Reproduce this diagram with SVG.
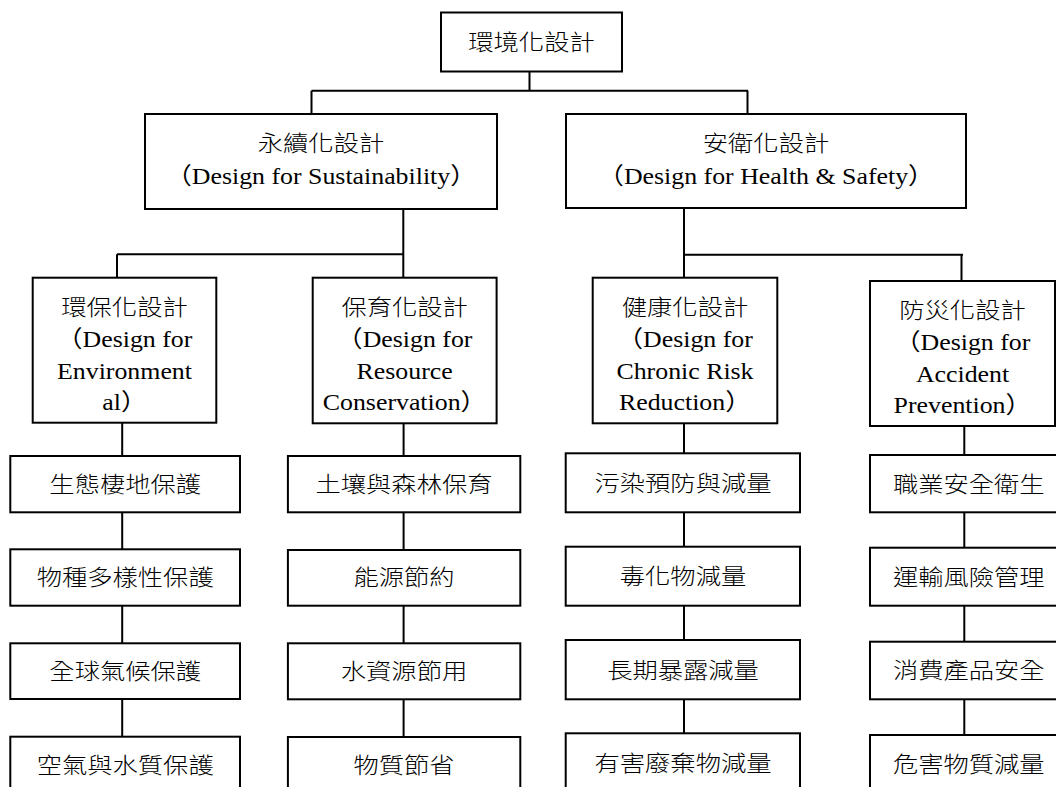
<svg xmlns="http://www.w3.org/2000/svg" width="1056" height="787" viewBox="0 0 1056 787">
<style>
.box{fill:#fff;stroke:#000;stroke-width:2}
.ln{fill:none;stroke:#000;stroke-width:2}
.t{font-family:"Liberation Serif","Noto Sans CJK TC",serif;font-size:22px;font-weight:300;fill:#000;text-anchor:middle}
.l{font-family:"Liberation Serif","Noto Sans CJK TC",serif;font-size:23.5px;fill:#000;text-anchor:middle}
</style>
<rect width="1056" height="787" fill="#fff"/>
<g id="connectors">
<path class="ln" d="M529.5,71.5V90.7M311.5,90.7H748M311.5,90.7V114M747.5,90.7V114"/>
<path class="ln" d="M403.3,209V277.7M117,254.3H403.3M117,254.3V277.7"/>
<path class="ln" d="M684,208V277.7M684,254.7H963M961.5,254.7V281"/>
<path class="ln" d="M122.2,422.7V737M403.6,423.3V737M684,423.3V733.3M964.3,426V735"/>
</g>
<g id="n-root">
<rect class="box" x="441" y="12.5" width="181" height="59"/>
<text class="t" transform="translate(531.5 0) scale(1.15 1)"><tspan x="0" y="50">環境化設計</tspan></text>
</g>
<g id="n-sustain">
<rect class="box" x="145" y="114" width="352" height="95"/>
<text class="t" transform="translate(321 0) scale(1.15 1)"><tspan x="0" y="151.5">永續化設計</tspan></text>
<text class="l" transform="translate(321 0) scale(1.1 1)"><tspan x="0" y="184">（Design for Sustainability）</tspan></text>
</g>
<g id="n-health-safety">
<rect class="box" x="566" y="114" width="400" height="94"/>
<text class="t" transform="translate(766 0) scale(1.15 1)"><tspan x="0" y="151.5">安衛化設計</tspan></text>
<text class="l" transform="translate(766 0) scale(1.1 1)"><tspan x="0" y="184">（Design for Health &amp; Safety）</tspan></text>
</g>
<g id="n-env">
<rect class="box" x="32.7" y="277.7" width="183.6" height="145"/>
<text class="t" transform="translate(124.5 0) scale(1.15 1)"><tspan x="0" y="315.5">環保化設計</tspan></text>
<text class="l" transform="translate(124.5 0) scale(1.1 1)"><tspan x="0" y="347">（Design for</tspan><tspan x="0" y="379">Environment</tspan><tspan x="0" y="410.5">al）</tspan></text>
</g>
<g id="n-resource">
<rect class="box" x="312.7" y="277.7" width="183.9" height="145.6"/>
<text class="t" transform="translate(404.6 0) scale(1.15 1)"><tspan x="0" y="315.5">保育化設計</tspan></text>
<text class="l" transform="translate(404.6 0) scale(1.1 1)"><tspan x="0" y="347">（Design for</tspan><tspan x="0" y="379">Resource</tspan><tspan x="0" y="410.5">Conservation）</tspan></text>
</g>
<g id="n-chronic">
<rect class="box" x="592.7" y="277.7" width="184.6" height="145.6"/>
<text class="t" transform="translate(685 0) scale(1.15 1)"><tspan x="0" y="315.5">健康化設計</tspan></text>
<text class="l" transform="translate(685 0) scale(1.1 1)"><tspan x="0" y="347">（Design for</tspan><tspan x="0" y="379">Chronic Risk</tspan><tspan x="0" y="410.5">Reduction）</tspan></text>
</g>
<g id="n-accident">
<rect class="box" x="870" y="281" width="185" height="145"/>
<text class="t" transform="translate(962.5 0) scale(1.15 1)"><tspan x="0" y="318.5">防災化設計</tspan></text>
<text class="l" transform="translate(962.5 0) scale(1.1 1)"><tspan x="0" y="350">（Design for</tspan><tspan x="0" y="382">Accident</tspan><tspan x="0" y="413.5">Prevention）</tspan></text>
</g>
<g id="n-e1"><rect class="box" x="10.3" y="456" width="229.7" height="56.3"/><text class="t" transform="translate(125.2 0) scale(1.15 1)"><tspan x="0" y="492">生態棲地保護</tspan></text></g>
<g id="n-e2"><rect class="box" x="10.3" y="549.3" width="229.7" height="56.4"/><text class="t" transform="translate(125.2 0) scale(1.15 1)"><tspan x="0" y="585.5">物種多樣性保護</tspan></text></g>
<g id="n-e3"><rect class="box" x="10.3" y="643.3" width="229.7" height="55.7"/><text class="t" transform="translate(125.2 0) scale(1.15 1)"><tspan x="0" y="679">全球氣候保護</tspan></text></g>
<g id="n-e4"><rect class="box" x="10.3" y="736.7" width="229.7" height="70"/><text class="t" transform="translate(125.2 0) scale(1.15 1)"><tspan x="0" y="773">空氣與水質保護</tspan></text></g>
<g id="n-r1"><rect class="box" x="287.9" y="456" width="232.4" height="56.3"/><text class="t" transform="translate(404 0) scale(1.15 1)"><tspan x="0" y="492">土壤與森林保育</tspan></text></g>
<g id="n-r2"><rect class="box" x="287.9" y="550" width="232.4" height="55.7"/><text class="t" transform="translate(404 0) scale(1.15 1)"><tspan x="0" y="585.5">能源節約</tspan></text></g>
<g id="n-r3"><rect class="box" x="287.9" y="643.3" width="232.4" height="56"/><text class="t" transform="translate(404 0) scale(1.15 1)"><tspan x="0" y="679">水資源節用</tspan></text></g>
<g id="n-r4"><rect class="box" x="287.9" y="737" width="232.4" height="70"/><text class="t" transform="translate(404 0) scale(1.15 1)"><tspan x="0" y="773">物質節省</tspan></text></g>
<g id="n-c1"><rect class="box" x="565.7" y="453.3" width="234.3" height="59"/><text class="t" transform="translate(683 0) scale(1.15 1)"><tspan x="0" y="490.8">污染預防與減量</tspan></text></g>
<g id="n-c2"><rect class="box" x="565.7" y="546.7" width="234.3" height="59"/><text class="t" transform="translate(683 0) scale(1.15 1)"><tspan x="0" y="584.2">毒化物減量</tspan></text></g>
<g id="n-c3"><rect class="box" x="565.7" y="640" width="234.3" height="59.3"/><text class="t" transform="translate(683 0) scale(1.15 1)"><tspan x="0" y="677.7">長期暴露減量</tspan></text></g>
<g id="n-c4"><rect class="box" x="565.7" y="733.3" width="234.3" height="70"/><text class="t" transform="translate(683 0) scale(1.15 1)"><tspan x="0" y="770.8">有害廢棄物減量</tspan></text></g>
<g id="n-a1"><rect class="box" x="870" y="455" width="234" height="57.3"/><text class="t" transform="translate(968.8 0) scale(1.15 1)"><tspan x="0" y="491.7">職業安全衛生</tspan></text></g>
<g id="n-a2"><rect class="box" x="870" y="547.7" width="234" height="58"/><text class="t" transform="translate(968.8 0) scale(1.15 1)"><tspan x="0" y="584.7">運輸風險管理</tspan></text></g>
<g id="n-a3"><rect class="box" x="870" y="641.7" width="234" height="57.6"/><text class="t" transform="translate(968.8 0) scale(1.15 1)"><tspan x="0" y="678.5">消費產品安全</tspan></text></g>
<g id="n-a4"><rect class="box" x="870" y="735" width="234" height="70"/><text class="t" transform="translate(968.8 0) scale(1.15 1)"><tspan x="0" y="772">危害物質減量</tspan></text></g>
</svg>
